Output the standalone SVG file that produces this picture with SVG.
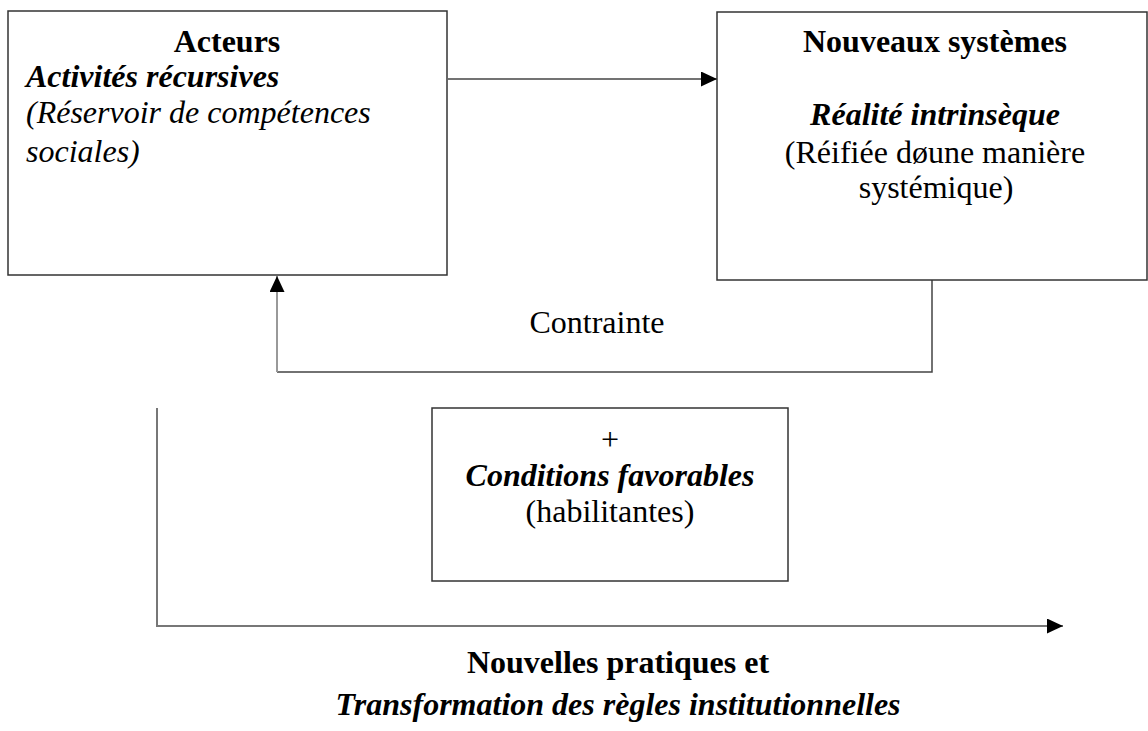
<svg xmlns="http://www.w3.org/2000/svg" width="1148" height="731" viewBox="0 0 1148 731">
  <style>
    text { font-family: "Liberation Serif", "DejaVu Serif", serif; font-size: 32px; fill: #000; }
    .b { font-weight: bold; }
    .i { font-style: italic; }
    .bi { font-weight: bold; font-style: italic; }
    .box { fill: #fff; stroke: #333; stroke-width: 1.5; }
    .link { fill: none; stroke: #444; stroke-width: 1.5; }
    .light { fill: none; stroke: #999; stroke-width: 2; }
  </style>
  <defs>
    <marker id="arrow" viewBox="0 0 16 15" refX="16" refY="7.5" markerWidth="16" markerHeight="15" markerUnits="userSpaceOnUse" orient="auto">
      <path d="M0,0 L16,7.5 L0,15 Z" fill="#000"/>
    </marker>
  </defs>

  <rect width="1148" height="731" fill="#fff"/>

  <g id="connectors">
    <!-- Acteurs to Nouveaux systèmes -->
    <line class="link" x1="448" y1="79" x2="717" y2="79" marker-end="url(#arrow)"/>
    <!-- Contrainte feedback loop -->
    <polyline class="link" points="932,280 932,372 277,372"/>
    <line class="light" x1="277" y1="372" x2="277" y2="276" marker-end="url(#arrow)"/>
    <!-- Outcome axis -->
    <polyline fill="none" stroke="#777" stroke-width="2" points="157,408 157,626 1050,626"/>
    <line x1="1040" y1="626" x2="1063" y2="626" stroke="#777" stroke-width="2" marker-end="url(#arrow)"/>
    <text x="597" y="333" text-anchor="middle" font-family="Liberation Serif, serif">Contrainte</text>
  </g>

  <g id="acteurs">
    <rect class="box" x="8" y="11" width="439" height="264"/>
    <text class="b" x="227" y="52" text-anchor="middle">Acteurs</text>
    <text class="bi" x="26" y="87">Activités récursives</text>
    <text class="i" x="26" y="123">(Réservoir de compétences</text>
    <text class="i" x="26" y="162">sociales)</text>
  </g>

  <g id="nouveaux-systemes">
    <rect class="box" x="717" y="12" width="430" height="268"/>
    <text class="b" x="935" y="52" text-anchor="middle">Nouveaux systèmes</text>
    <text class="bi" x="935" y="125" text-anchor="middle">Réalité intrinsèque</text>
    <text x="935" y="163" text-anchor="middle">(Réifiée døune manière</text>
    <text x="936" y="198" text-anchor="middle">systémique)</text>
  </g>

  <g id="conditions">
    <rect class="box" x="432" y="408" width="356" height="173"/>
    <text x="610" y="450" text-anchor="middle">+</text>
    <text class="bi" x="610" y="486" text-anchor="middle">Conditions favorables</text>
    <text x="610" y="522" text-anchor="middle">(habilitantes)</text>
  </g>

  <g id="resultat">
    <text class="b" x="618" y="673" text-anchor="middle">Nouvelles pratiques et</text>
    <text class="bi" x="618" y="715" text-anchor="middle">Transformation des règles institutionnelles</text>
  </g>
</svg>
